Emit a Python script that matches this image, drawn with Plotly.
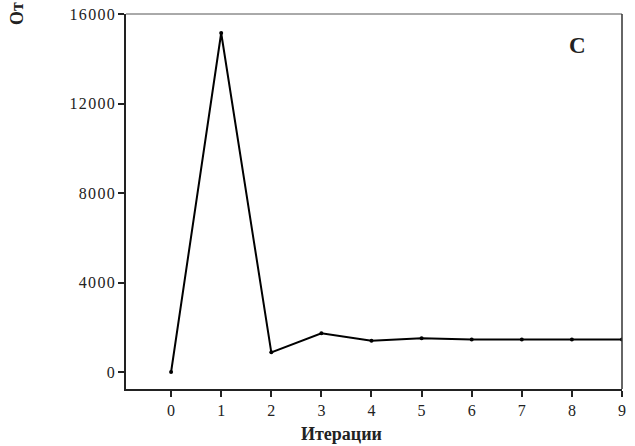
import plotly.graph_objects as go

# Convergence of the objective over iterations
iterations = [0, 1, 2, 3, 4, 5, 6, 7, 8, 9]
values = [0, 15150, 880, 1730, 1400, 1510, 1450, 1450, 1450, 1450]

y_ticks = [0, 4000, 8000, 12000, 16000]
x_ticks = [0, 1, 2, 3, 4, 5, 6, 7, 8, 9]

serif = "Liberation Serif"
ink = "#222"
HAIR = "\u200a"


def spaced(n):
    # slightly letter-spaced numerals for the value axis
    return HAIR.join(str(n))


fig = go.Figure()
fig.add_trace(go.Scatter(
    x=iterations, y=values,
    mode="lines+markers",
    line=dict(color="black", width=2),
    marker=dict(color="black", size=4),
    showlegend=False,
))

fig.update_layout(
    width=635, height=446,
    margin=dict(l=126, r=13, t=14, b=57, autoexpand=False),
    paper_bgcolor="white", plot_bgcolor="white",
    font=dict(family=serif, size=15, color=ink),
    xaxis=dict(
        range=[-0.9, 9], tickvals=x_ticks, ticktext=[str(v) for v in x_ticks],
        showgrid=False, zeroline=False, automargin=False,
        showline=True, linecolor=ink, linewidth=2,
        ticks="outside", ticklen=6, tickwidth=2, tickcolor=ink,
        tickfont=dict(size=16),
    ),
    yaxis=dict(
        range=[-760, 16000], tickvals=y_ticks, ticktext=[spaced(v) for v in y_ticks],
        showgrid=False, zeroline=False, automargin=False,
        showline=True, linecolor=ink, linewidth=2,
        ticks="outside", ticklen=6, tickwidth=2, tickcolor=ink,
        tickfont=dict(size=16),
    ),
    shapes=[
        dict(type="line", xref="paper", yref="paper", x0=0, x1=1, y0=1, y1=1,
             line=dict(color="#555", width=1)),
        dict(type="line", xref="paper", yref="paper", x0=1, x1=1, y0=0, y1=1,
             line=dict(color="#333", width=1.5)),
    ],
    annotations=[
        dict(text="<b>C</b>", xref="paper", yref="paper", x=0.911, y=0.915,
             xanchor="center", yanchor="middle",
             showarrow=False, font=dict(family=serif, size=23, color=ink)),
        dict(text="<b>Итерации</b>", xref="paper", yref="paper",
             x=0.4335, y=-0.149, xanchor="center", yanchor="bottom",
             showarrow=False, borderpad=0,
             font=dict(family=serif, size=18, color=ink)),
        dict(text="<b>От</b>", xref="paper", yref="paper",
             x=-0.22, y=1.036, xanchor="center", yanchor="top",
             textangle=-90, showarrow=False, borderpad=0,
             font=dict(family=serif, size=18, color=ink)),
    ],
)

fig.write_html("out.html")
